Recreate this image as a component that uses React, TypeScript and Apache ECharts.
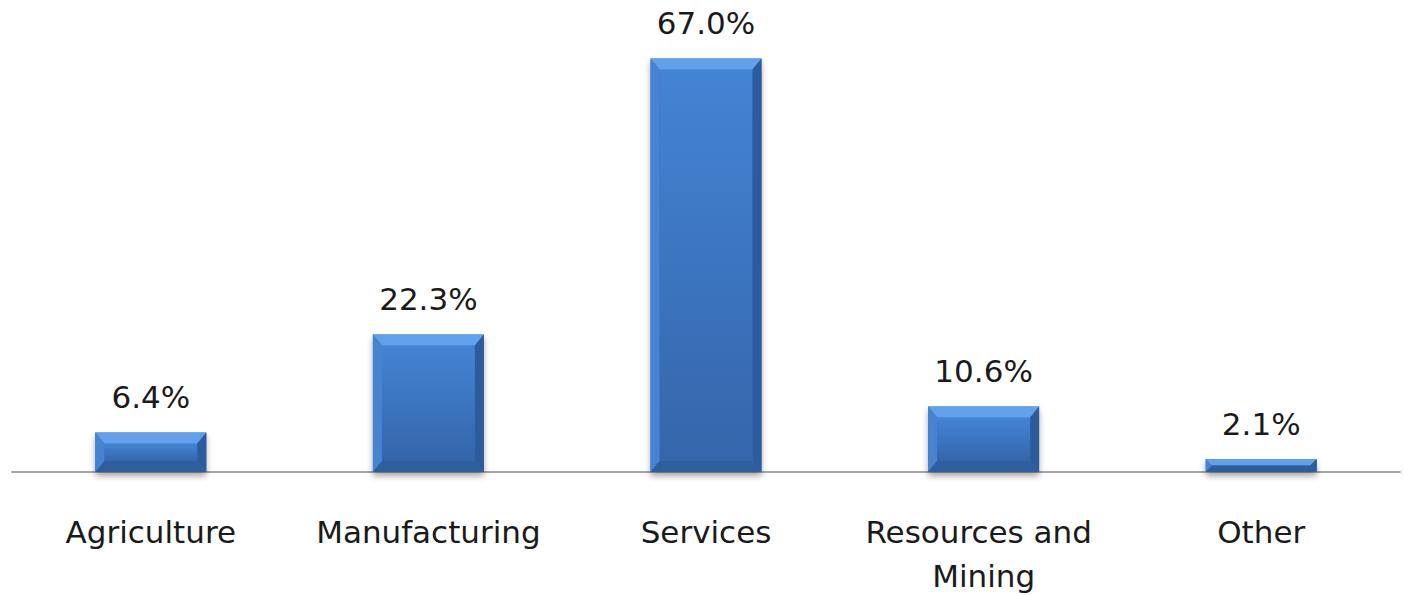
import React, { useEffect, useRef } from "react";
import * as echarts from "echarts";

const categories = ["Agriculture", "Manufacturing", "Services", "Resources and Mining", "Other"];
const values = [6.4, 22.3, 67.0, 10.6, 2.1];
const valueLabels = ["6.4%", "22.3%", "67.0%", "10.6%", "2.1%"];

const FONT = "DejaVu Sans";
const FS = 31;

export default function App() {
  const ref = useRef<HTMLDivElement>(null);
  useEffect(() => {
    if (!ref.current) return;
    const chart = echarts.init(ref.current, undefined, { renderer: "svg" });
    chart.setOption({
      animation: false,
      backgroundColor: "#ffffff",
      grid: { left: 12, right: 4, top: 40, bottom: 123, outerBoundsMode: "none", containLabel: false },
      xAxis: {
        type: "category",
        data: categories,
        axisLine: { show: true, lineStyle: { color: "#a6a6a6", width: 2 } },
        axisTick: { show: false },
        axisLabel: {
          color: "#1a1a1a",
          fontFamily: FONT,
          fontSize: FS,
          margin: 38,
          lineHeight: 44,
          width: 270,
          overflow: "break",
          interval: 0,
        },
      },
      yAxis: { type: "value", min: 0, max: 70, show: false, splitLine: { show: false } },
      series: [
        {
          type: "custom",
          data: values.map((v, i) => [i, v]),
          encode: { x: 0, y: 1 },
          renderItem: (params: any, api: any) => {
            const idx = api.value(0);
            const val = api.value(1);
            const top = api.coord([idx, val]);
            const base = api.coord([idx, 0]);
            const w = api.size([1, 0])[0] * 0.4;
            const x0 = top[0] - w / 2;
            const x1 = top[0] + w / 2;
            const y0 = top[1];
            const y1 = base[1];
            const h = y1 - y0;
            const b = Math.min(9, h / 2);
            const bh = Math.min(11, h / 2);
            const face = {
              type: "linear", x: 0, y: 0, x2: 0, y2: 1,
              colorStops: [
                { offset: 0, color: "#4484d4" },
                { offset: 1, color: "#3466ab" },
              ],
            };
            return {
              type: "group",
              children: [
                {
                  type: "rect",
                  shape: { x: x0, y: y0, width: w, height: h },
                  style: { fill: "#3a72bd", shadowBlur: 6, shadowOffsetY: 4, shadowColor: "rgba(0,0,0,0.35)" },
                },
                {
                  type: "rect",
                  shape: { x: x0 + b, y: y0 + bh, width: w - 2 * b, height: Math.max(0, h - 2 * bh) },
                  style: { fill: face },
                },
                {
                  type: "polygon",
                  shape: { points: [[x0, y0], [x1, y0], [x1 - b, y0 + bh], [x0 + b, y0 + bh]] },
                  style: { fill: "#62a0ea" },
                },
                {
                  type: "polygon",
                  shape: { points: [[x0, y0], [x0 + b, y0 + bh], [x0 + b, y1 - bh], [x0, y1]] },
                  style: { fill: "#4783d0" },
                },
                {
                  type: "polygon",
                  shape: { points: [[x1, y0], [x1 - b, y0 + bh], [x1 - b, y1 - bh], [x1, y1]] },
                  style: { fill: "#2d5c9c" },
                },
                {
                  type: "polygon",
                  shape: { points: [[x0, y1], [x0 + b, y1 - bh], [x1 - b, y1 - bh], [x1, y1]] },
                  style: { fill: "#2f5e9f" },
                },
                {
                  type: "text",
                  x: top[0],
                  y: y0 - 20,
                  style: {
                    text: valueLabels[idx],
                    fontFamily: FONT,
                    fontSize: FS,
                    fill: "#1a1a1a",
                    align: "center",
                    verticalAlign: "bottom",
                  },
                },
              ],
            };
          },
        },
      ],
    });
    return () => chart.dispose();
  }, []);
  return <div ref={ref} style={{ position: "fixed", left: 0, top: 0, width: 1404, height: 595 }} />;
}
